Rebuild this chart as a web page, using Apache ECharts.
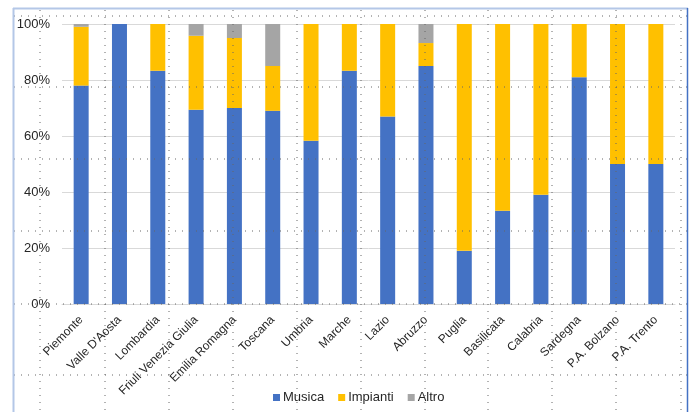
<!DOCTYPE html>
<html><head><meta charset="utf-8">
<script src="https://cdn.jsdelivr.net/npm/echarts@6/dist/echarts.min.js"></script>
<style>html,body{margin:0;padding:0;background:#fff}#c{width:694px;height:412px}</style>
</head><body><div id="c"></div>
<script>
const categories = ["Piemonte","Valle D'Aosta","Lombardia","Friuli Venezia Giulia","Emilia Romagna","Toscana","Umbria","Marche","Lazio","Abruzzo","Puglia","Basilicata","Calabria","Sardegna","P.A. Bolzano","P.A. Trento"];
const musica   = [78, 100, 83.3, 69.4, 70, 69, 58.3, 83.3, 67, 85, 19, 33.3, 39, 81, 50, 50];
const impianti = [21, 0, 16.7, 26.4, 25, 16, 41.7, 16.7, 33, 8.2, 81, 66.7, 61, 19, 50, 50];
const altro    = [1, 0, 0, 4.2, 5, 15, 0, 0, 0, 6.8, 0, 0, 0, 0, 0, 0];
const yTicks = [0, 20, 40, 60, 80, 100];

const chart = echarts.init(document.getElementById('c'));
const font = 'Liberation Sans';
const txt = '#262626';
// decorative document gridlines (page background), not data
const hY = [16, 87, 159, 231, 304, 375];
const vX = [40, 105, 169, 233, 297, 361, 425, 488, 552, 616, 681];
const graphics = [];
hY.forEach(y => graphics.push({type:'line', z:100, silent:true, shape:{x1:14,y1:y,x2:687,y2:y}, style:{stroke:'#666', lineWidth:1, lineDash:[1,6]}}));
vX.forEach(x => graphics.push({type:'line', z:100, silent:true, shape:{x1:x,y1:10,x2:x,y2:412}, style:{stroke:'#666', lineWidth:1, lineDash:[1,6]}}));
graphics.push({type:'line', z:101, silent:true, shape:{x1:13,y1:8.5,x2:688,y2:8.5}, style:{stroke:'#b4c7e7', lineWidth:2}});
graphics.push({type:'line', z:101, silent:true, shape:{x1:13.5,y1:8,x2:13.5,y2:412}, style:{stroke:'#b4c7e7', lineWidth:2}});
graphics.push({type:'line', z:101, silent:true, shape:{x1:687.5,y1:8,x2:687.5,y2:412}, style:{stroke:'#4472c4', lineWidth:1.5}});

const mk = (name, data, color) => ({name, type:'bar', stack:'a', data, barWidth:15, itemStyle:{color}, emphasis:{disabled:true}});
chart.setOption({
  animation:false,
  textStyle:{fontFamily:font},
  graphic: graphics,
  grid:{left:62, right:19, top:24, bottom:108},
  legend:{top:386, left:268, icon:'rect', itemWidth:7, itemHeight:7, itemGap:14,
    textStyle:{fontSize:13, color:txt, fontFamily:font, padding:[0,0,0,-2]}, data:['Musica','Impianti','Altro']},
  xAxis:{type:'category', data:categories,
    axisLine:{lineStyle:{color:'#d9d9d9'}}, axisTick:{show:false},
    axisLabel:{interval:0, rotate:45, fontSize:12, color:txt, fontFamily:font, margin:14}},
  yAxis:{type:'value', min:yTicks[0], max:yTicks[yTicks.length-1], interval:20,
    axisLabel:{formatter:'{value}%', fontSize:13, color:txt, fontFamily:font, margin:12},
    splitLine:{lineStyle:{color:'#d9d9d9'}}, axisLine:{show:false}, axisTick:{show:false}},
  series:[mk('Musica', musica, '#4472c4'), mk('Impianti', impianti, '#ffc000'), mk('Altro', altro, '#a5a5a5')]
});
</script></body></html>
